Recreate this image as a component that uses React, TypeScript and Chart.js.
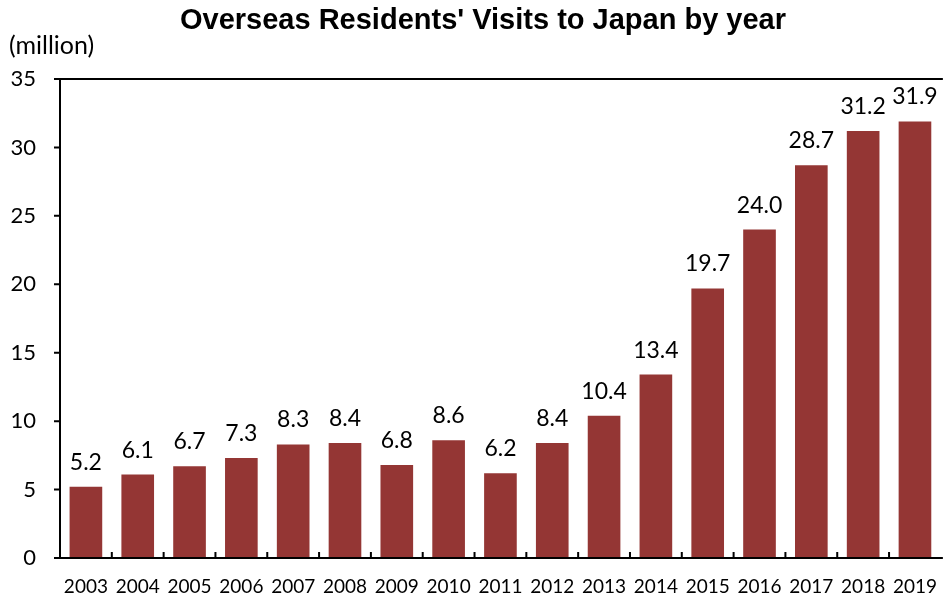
import React, { useEffect, useRef } from "react";
import { Chart, registerables } from "chart.js";

Chart.register(...registerables);

const TITLE = "Overseas Residents' Visits to Japan by year";
const UNIT = "(million)";
const years = ["2003","2004","2005","2006","2007","2008","2009","2010","2011","2012","2013","2014","2015","2016","2017","2018","2019"];
const visits = [5.2, 6.1, 6.7, 7.3, 8.3, 8.4, 6.8, 8.6, 6.2, 8.4, 10.4, 13.4, 19.7, 24.0, 28.7, 31.2, 31.9];
const BAR = "#943634";
const FONT = "Lato, 'Open Sans', sans-serif";

const decor = {
  id: "decor",
  afterDatasetsDraw(chart: any) {
    const { ctx, chartArea } = chart;
    const { left, right, top, bottom } = chartArea;
    const x = chart.scales.x;
    const y = chart.scales.y;
    ctx.save();
    ctx.strokeStyle = "#000";
    ctx.lineWidth = 2;
    ctx.beginPath();
    ctx.moveTo(left, top); ctx.lineTo(right + 2, top);
    ctx.moveTo(left, top - 1); ctx.lineTo(left, bottom + 1);
    ctx.moveTo(left - 1, bottom); ctx.lineTo(right + 2, bottom);
    y.ticks.forEach((t: any) => {
      const py = y.getPixelForValue(t.value);
      ctx.moveTo(left - 6, py); ctx.lineTo(left, py);
    });
    for (let i = 1; i < years.length; i++) {
      const px = (x.getPixelForValue(i - 1) + x.getPixelForValue(i)) / 2;
      ctx.moveTo(px, bottom); ctx.lineTo(px, bottom - 6);
    }
    ctx.stroke();
    ctx.fillStyle = "#000";
    ctx.font = `23px ${FONT}`;
    ctx.textAlign = "center";
    ctx.textBaseline = "alphabetic";
    const meta = chart.getDatasetMeta(0);
    meta.data.forEach((bar: any, i: number) => {
      ctx.fillText(visits[i].toFixed(1), bar.x, bar.y - 17);
    });
    ctx.font = `bold 29px 'Liberation Sans', Arial, sans-serif`;
    ctx.textBaseline = "middle";
    ctx.fillText(TITLE, 483, 21);
    ctx.font = `25px ${FONT}`;
    ctx.textAlign = "left";
    ctx.fillText(UNIT, 9, 46);
    ctx.restore();
  },
};

export default function App() {
  const ref = useRef<HTMLCanvasElement>(null);
  useEffect(() => {
    document.body.style.margin = "0";
    const chart = new Chart(ref.current!, {
      type: "bar",
      data: {
        labels: years,
        datasets: [{ data: visits, backgroundColor: BAR, borderWidth: 0, categoryPercentage: 1, barPercentage: 0.63 }],
      },
      options: {
        animation: false,
        responsive: false,
        layout: { padding: { top: 79, right: 0, left: 0, bottom: 0 } },
        plugins: { legend: { display: false }, tooltip: { enabled: false }, title: { display: false } },
        scales: {
          x: {
            grid: { display: false },
            border: { display: false },
            ticks: { color: "#000", font: { family: FONT, size: 19 }, padding: 9, maxRotation: 0, autoSkip: false },
            afterFit(s: any) { s.height = 40; },
          },
          y: {
            min: 0, max: 35,
            grid: { display: false },
            border: { display: false },
            ticks: { stepSize: 5, color: "#000", font: { family: FONT, size: 22 }, padding: 16 },
            afterFit(s: any) { s.width = 60; },
          },
        },
      },
      plugins: [decor],
    });
    return () => chart.destroy();
  }, []);
  return (
    <div style={{ position: "absolute", left: 0, top: 0, width: 946, height: 598 }}>
      <canvas ref={ref} width={946} height={598} style={{ width: 946, height: 598 }} />
    </div>
  );
}
